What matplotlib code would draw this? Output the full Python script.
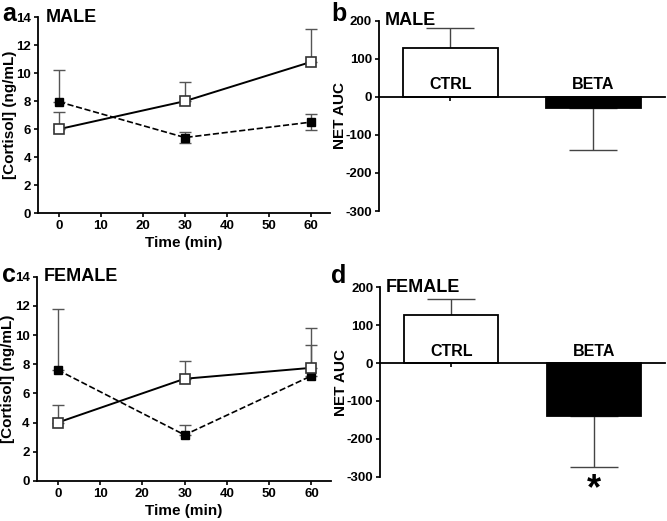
import numpy as np
import matplotlib
matplotlib.use("Agg")
import matplotlib.pyplot as plt

plt.rcParams['font.family'] = ['Liberation Sans', 'DejaVu Sans']
plt.rcParams['font.weight'] = 'bold'
plt.rcParams['axes.unicode_minus'] = False

"""Données"""

time = [0, 30, 60]

# male cortisol (ng/mL)
male_ctrl = [6.0, 8.0, 10.8]
male_ctrl_err = [1.25, 1.4, 2.35]
male_beta = [7.95, 5.4, 6.5]
male_beta_err = [2.3, 0.4, 0.6]
male_beta_lo = [0, 0.4, 0.55]

# female cortisol (ng/mL)
female_ctrl = [4.0, 7.0, 7.75]
female_ctrl_err = [1.2, 1.2, 2.75]
female_beta = [7.6, 3.15, 7.2]
female_beta_err = [4.2, 0.65, 2.1]
female_beta_lo = [0, 0, 0]

groups = ["CTRL", "BETA"]
male_auc = [128, -29]
male_auc_err = [54, 111]
female_auc = [127, -141]
female_auc_err = [41, 133]

W, H = 667, 521
fig = plt.figure(figsize=(W / 100, H / 100), dpi=100)


def line_panel(ax, ctrl, ctrl_err, beta, beta_err, beta_lo, title):
    ax.errorbar(time, beta, yerr=[beta_lo, beta_err], fmt='none', ecolor='#555555',
                elinewidth=1, capsize=4, capthick=1, zorder=1)
    ax.errorbar(time, ctrl, yerr=[[0, 0, 0], ctrl_err], fmt='none',
                ecolor='#555555', elinewidth=1, capsize=4, capthick=1, zorder=1)
    ax.plot(time, beta, 'k--', marker='s', ms=6, mfc='k', mec='k', lw=1.2, zorder=3)
    ax.plot(time, ctrl, 'k-', marker='s', ms=6.5, mfc='white', mec='#333333',
            mew=1.2, lw=1.4, zorder=4)
    ax.set_xlim(-5, 64.6)
    ax.set_ylim(0, 14)
    ax.set_xticks(np.arange(0, 61, 10))
    ax.set_yticks(np.arange(0, 15, 2))
    for s in ['top', 'right']:
        ax.spines[s].set_visible(False)
    for s in ['left', 'bottom']:
        ax.spines[s].set_linewidth(1.3)
    ax.tick_params(labelsize=9.5, width=1.2, length=3, pad=2)
    for lab in ax.get_xticklabels() + ax.get_yticklabels():
        lab.set_fontweight('bold')
    ax.set_xlabel("Time (min)", fontsize=11, fontweight='bold', labelpad=3)
    ax.set_ylabel("[Cortisol] (ng/mL)", fontsize=11, fontweight='bold')
    ax.yaxis.set_label_coords(-0.073, 0.5)
    ax.text(0.025, 1.0, title, transform=ax.transAxes, fontsize=13,
            fontweight='bold', va='center', ha='left')


def bar_panel(ax, vals, errs, title, star=False):
    x = np.arange(len(groups))
    colors = ['white', 'black']
    ax.bar(x, vals, width=0.66, color=colors, edgecolor='black', linewidth=1.3, zorder=2)
    for xi, v, e in zip(x, vals, errs):
        yerr = [[0], [e]] if v >= 0 else [[e], [0]]
        ax.errorbar(xi, v, yerr=yerr, fmt='none', ecolor='#444444',
                    elinewidth=1, capsize=17, capthick=1, zorder=1)
    ax.set_xlim(-0.5, 1.5)
    ax.set_ylim(-300, 200)
    ax.set_yticks(np.arange(-300, 201, 100))
    ax.set_xticks(x)
    ax.set_xticklabels([])
    ax.spines['bottom'].set_position(('data', 0))
    for s in ['top', 'right']:
        ax.spines[s].set_visible(False)
    for s in ['left', 'bottom']:
        ax.spines[s].set_linewidth(1.3)
    ax.tick_params(labelsize=9.5, width=1.2, length=3, pad=2)
    for lab in ax.get_yticklabels():
        lab.set_fontweight('bold')
    for xi, g in zip(x, groups):
        ax.text(xi, 12, g, ha='center', va='bottom', fontsize=11.5, fontweight='bold')
    ax.set_ylabel("NET AUC", fontsize=11, fontweight='bold')
    ax.yaxis.set_label_coords(-0.112, 0.5)
    ax.text(0.02, 1.0, title, transform=ax.transAxes, fontsize=13,
            fontweight='bold', va='center', ha='left')
    if star:
        ax.text(1, -335, "*", ha='center', va='center', fontsize=26, fontweight='bold')


ax_a = fig.add_axes([0.057, 0.591, 0.438, 0.376])
line_panel(ax_a, male_ctrl, male_ctrl_err, male_beta, male_beta_err, male_beta_lo, "MALE")

ax_b = fig.add_axes([0.568, 0.595, 0.429, 0.365])
bar_panel(ax_b, male_auc, male_auc_err, "MALE")

ax_c = fig.add_axes([0.055, 0.077, 0.441, 0.392])
line_panel(ax_c, female_ctrl, female_ctrl_err, female_beta, female_beta_err,
           female_beta_lo, "FEMALE")

ax_d = fig.add_axes([0.570, 0.085, 0.427, 0.3635])
bar_panel(ax_d, female_auc, female_auc_err, "FEMALE", star=True)

# panel letters
for lx, ly, letter in [(2, 14, "a"), (331, 14, "b"), (2, 275, "c"), (331, 276, "d")]:
    fig.text(lx / W, 1 - ly / H, letter, fontsize=18, fontweight='bold',
             ha='left', va='center')

plt.savefig("out.png", dpi=100)
